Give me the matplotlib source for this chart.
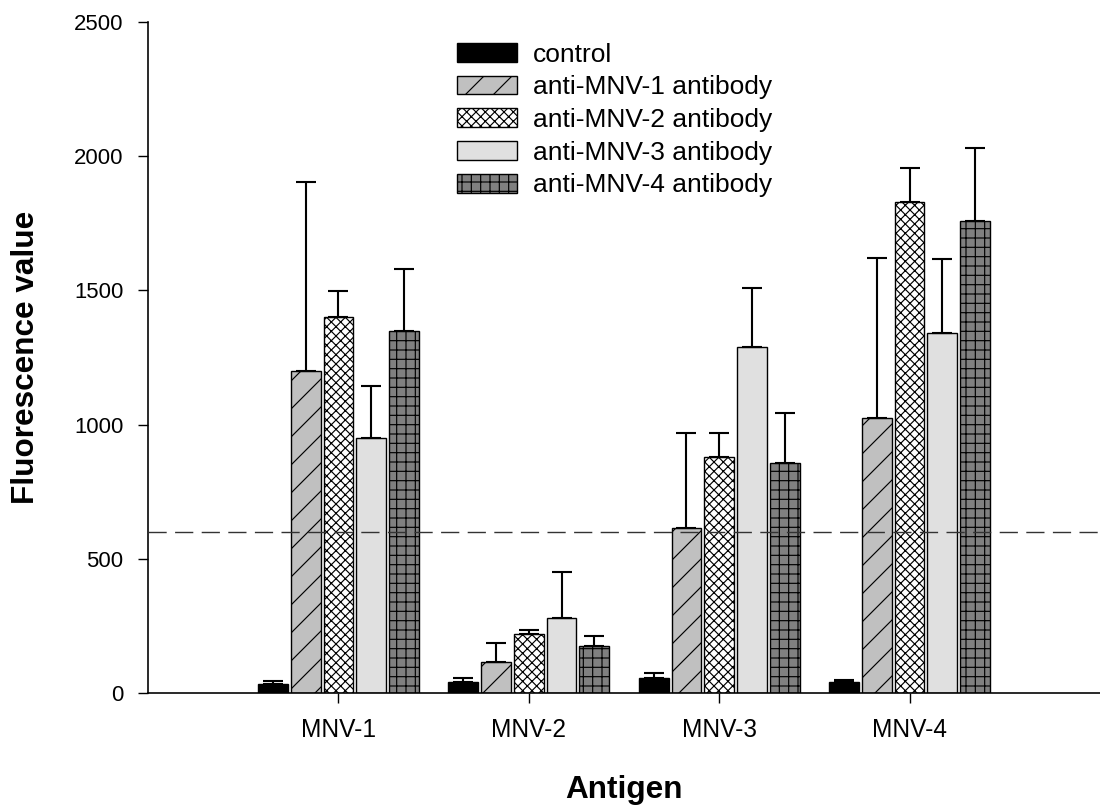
import matplotlib
matplotlib.use('Agg')
import matplotlib.pyplot as plt
import numpy as np

plt.rcParams['font.family'] = ['Liberation Sans', 'DejaVu Sans']
plt.rcParams['hatch.linewidth'] = 0.5

antigens = ['MNV-1', 'MNV-2', 'MNV-3', 'MNV-4']
series = ['control', 'anti-MNV-1 antibody', 'anti-MNV-2 antibody',
          'anti-MNV-3 antibody', 'anti-MNV-4 antibody']
# bar heights per series (one value per antigen)
control = [35, 40, 57, 40]
anti1 = [1200, 115, 613, 1025]
anti2 = [1400, 220, 880, 1830]
anti3 = [950, 280, 1288, 1340]
anti4 = [1348, 175, 857, 1760]
# tops of the (upper-only) error bars
control_top = [45, 57, 75, 50]
anti1_top = [1905, 185, 968, 1620]
anti2_top = [1497, 235, 968, 1957]
anti3_top = [1145, 452, 1508, 1618]
anti4_top = [1578, 212, 1043, 2032]
cutoff = 600

values = [control, anti1, anti2, anti3, anti4]
tops = [control_top, anti1_top, anti2_top, anti3_top, anti4_top]
colors = ['black', '#c0c0c0', 'white', '#e0e0e0', '#808080']
hatches = [None, '//', 'xxxxxx', None, '+++']

dpi = 168
fig = plt.figure(figsize=(1100 / dpi, 808 / dpi), dpi=dpi)
ax = fig.add_axes([148 / 1100, 1 - 693 / 808, 1 - 148 / 1100, (693 - 22) / 808])

x = np.arange(1, len(antigens) + 1)
step = 0.172
width = 0.156
for i in range(len(series)):
    v = np.array(values[i])
    up = np.array(tops[i]) - v
    pos = x + (i - 2) * step
    ax.bar(pos, v, width, color=colors[i], edgecolor='black', linewidth=0.6,
           hatch=hatches[i], label=series[i], zorder=2)
    ax.errorbar(pos, v, yerr=[np.zeros(len(v)), up], fmt='none', ecolor='black',
                elinewidth=0.9, capsize=4.3, capthick=0.9, zorder=3)

ax.axhline(cutoff, color='#333333', linewidth=0.6, linestyle=(0, (13, 6)), zorder=4)

ax.set_xlim(0, 5)
ax.set_ylim(0, 2500)
ax.set_xticks(x)
ax.set_xticklabels(antigens)
ax.set_yticks(np.arange(0, 2501, 500))
ax.tick_params(axis='both', direction='out', length=4.3, width=0.6)
ax.tick_params(axis='x', labelsize=10.5, pad=6.5)
ax.tick_params(axis='y', labelsize=9.5, pad=6.2)
for s in ['top', 'right']:
    ax.spines[s].set_visible(False)
for s in ['left', 'bottom']:
    ax.spines[s].set_linewidth(0.7)

ax.set_xlabel('Antigen', fontsize=13.5, fontweight='bold', labelpad=14)
ax.set_ylabel('Fluorescence value', fontsize=13.5, fontweight='bold', labelpad=14)

ax.legend(loc='upper left', bbox_to_anchor=(0.313, 0.985), frameon=False, fontsize=11.3,
          handlelength=2.3, handleheight=0.72, labelspacing=0.33, handletextpad=0.6,
          borderaxespad=0)

fig.savefig('out.png', dpi=dpi)
